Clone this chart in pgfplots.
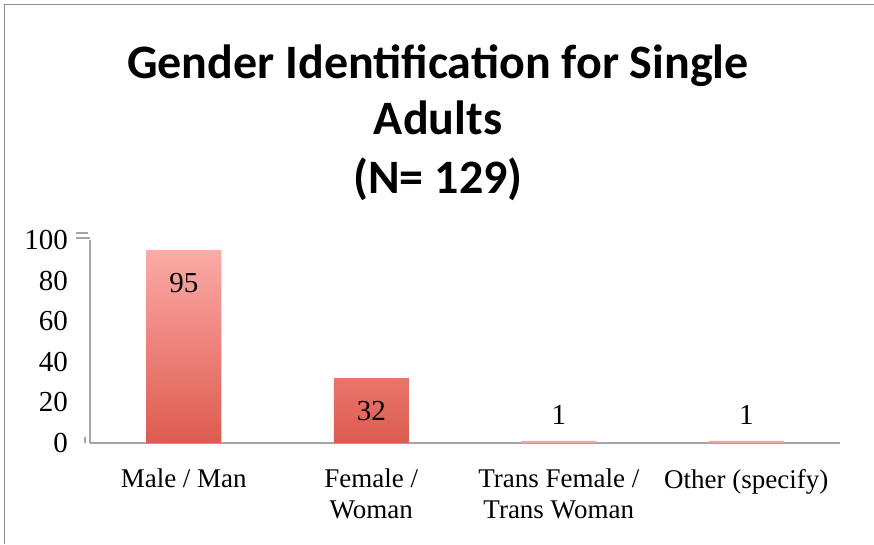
\documentclass[border=0pt]{standalone}
\usepackage{fontspec}
\setmainfont{Liberation Serif}
\newfontfamily\titlefont{Carlito}
\usepackage{pgfplots}
\pgfplotsset{compat=1.18}

\definecolor{bartop}{RGB}{251,170,166}
\definecolor{barbot}{RGB}{221,91,79}
\definecolor{axisgray}{RGB}{165,165,165}
\definecolor{framegray}{RGB}{140,140,140}

\begin{document}
\begin{tikzpicture}
% whole chart area, 1px = 1pt
\useasboundingbox (0,0) rectangle (874pt,544pt);
\draw[framegray, line width=1.5pt] (4.5pt,0) -- (4.5pt,539.5pt) -- (874pt,539.5pt);

% title
\node[anchor=base, inner sep=0pt] at (438pt,465pt) {\titlefont\bfseries\fontsize{48}{54}\selectfont Gender Identification for Single};
\node[anchor=base, inner sep=0pt] at (438pt,409pt) {\titlefont\bfseries\fontsize{48}{54}\selectfont Adults};
\node[anchor=base, inner sep=0pt] at (438pt,350pt) {\titlefont\bfseries\fontsize{48}{54}\selectfont (N= 129)};

\begin{axis}[
    at={(90pt,101pt)}, anchor=south west,
    scale only axis,
    width=750pt, height=203pt,
    xmin=-0.5, xmax=3.5,
    ymin=0, ymax=100,
    ytick={0,20,...,100},
    xtick={0,1,2,3},
    xticklabels={Male / Man, {Female /\\Woman}, {Trans Female /\\Trans Woman}, Other (specify)},
    axis x line*=bottom,
    axis y line*=left,
    axis line style={draw=axisgray, line width=1.3pt},
    major tick length=0pt,
    /pgf/number format/assume math mode=true,
    yticklabel style={anchor=east, inner sep=0pt, xshift=-22pt, font=\fontsize{29}{31}\selectfont},
    xticklabel style={align=center, anchor=north, inner sep=0pt, yshift=-26pt, font=\fontsize{27}{31}\selectfont},
    clip=false,
]
\addplot[ybar, bar width=75pt, bar shift=0pt, draw=none,
    top color=bartop, bottom color=barbot,
    nodes near coords,
    nodes near coords style={anchor=center, yshift=-33pt, font=\fontsize{29}{31}\selectfont, text=black},
] coordinates {(0,95) (1,32)};
\addplot[ybar, bar width=75pt, bar shift=0pt, draw=none,
    fill=bartop!90!barbot,
    nodes near coords,
    nodes near coords style={anchor=center, yshift=26pt, font=\fontsize{29}{31}\selectfont, text=black},
] coordinates {(2,1) (3,1)};
% small marks at the ends of the value axis
\draw[axisgray, line width=1.2pt] ([xshift=-14pt,yshift=7pt]rel axis cs:0,1) -- ([xshift=-2pt,yshift=7pt]rel axis cs:0,1);
\draw[axisgray, line width=1.2pt] ([xshift=-14pt,yshift=2pt]rel axis cs:0,1) -- ([xshift=0pt,yshift=2pt]rel axis cs:0,1);
\draw[axisgray, line width=1.5pt] ([xshift=-5pt]rel axis cs:0,0) -- ([xshift=-5pt,yshift=6pt]rel axis cs:0,0);
\end{axis}
\end{tikzpicture}
\end{document}
